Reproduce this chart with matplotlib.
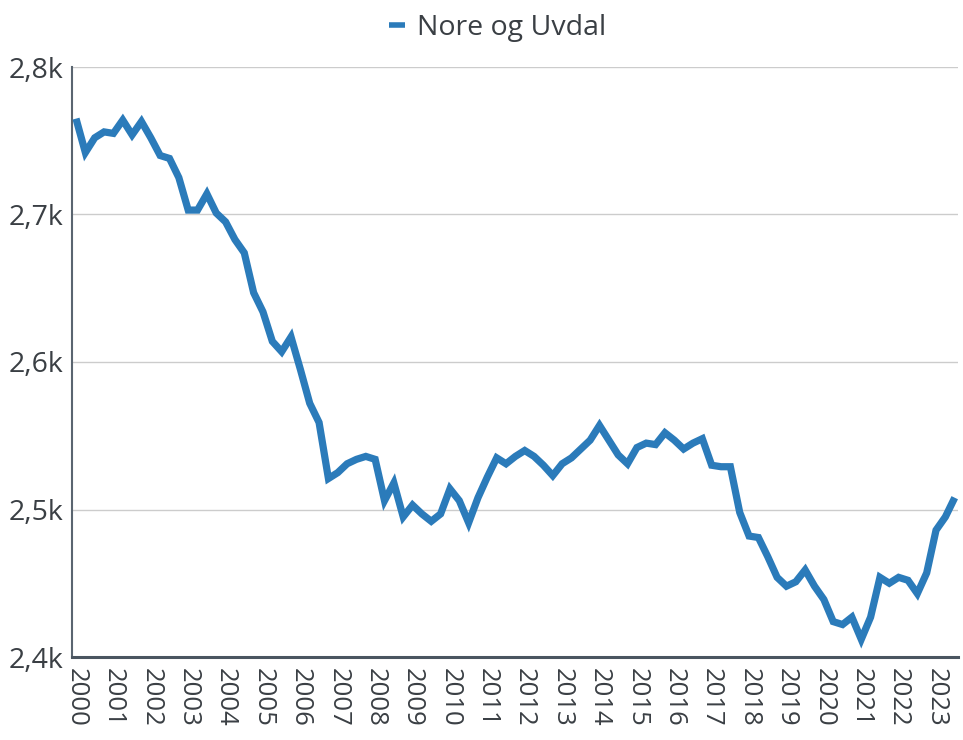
import matplotlib
matplotlib.use("Agg")
import matplotlib.pyplot as plt
from matplotlib.ticker import FixedLocator

series_name = "Nore og Uvdal"
years = list(range(2000, 2024))
quarters = [f"{y}K{q}" for y in years for q in range(1, 5)][:95]
values = [
    2765, 2742, 2752, 2756, 2755, 2764, 2754, 2763, 2752, 2740,
    2738, 2725, 2703, 2703, 2714, 2701, 2695, 2683, 2674, 2647,
    2634, 2614, 2607, 2617, 2595, 2572, 2559, 2521, 2525, 2531,
    2534, 2536, 2534, 2506, 2518, 2495, 2503, 2497, 2492, 2497,
    2514, 2506, 2491, 2508, 2522, 2535, 2531, 2536, 2540, 2536,
    2530, 2523, 2531, 2535, 2541, 2547, 2557, 2547, 2537, 2531,
    2542, 2545, 2544, 2552, 2547, 2541, 2545, 2548, 2530, 2529,
    2529, 2498, 2482, 2481, 2468, 2454, 2448, 2451, 2459, 2448,
    2439, 2424, 2422, 2427, 2412, 2427, 2454, 2450, 2454, 2452,
    2443, 2457, 2486, 2495, 2508,
]
y_ticks = [2400, 2500, 2600, 2700, 2800]
y_tick_labels = ["2,4k", "2,5k", "2,6k", "2,7k", "2,8k"]
x_tick_labels = [str(y) for y in years]

plt.rcParams['font.family'] = ['Open Sans', 'DejaVu Sans']
text_color = '#3a3f44'
line_color = '#2b7bba'

fig = plt.figure(figsize=(9.63, 7.40), dpi=100)
ax = fig.add_axes([72/963, 83/740, 886/963, 590/740])

x = list(range(len(values)))
ax.plot(x, values, color=line_color, linewidth=5.2, solid_joinstyle='miter',
        solid_capstyle='butt', label=series_name, zorder=3)

ax.set_ylim(2400, 2800)
ax.set_xlim(-0.43, 94.35)
ax.yaxis.set_major_locator(FixedLocator(y_ticks))
ax.set_yticklabels(y_tick_labels)
ax.set_xticks([i * 4 for i in range(len(x_tick_labels))])
ax.set_xticklabels(x_tick_labels, rotation=-90, va='top', ha='center')

ax.grid(axis='y', color='#cccccc', linewidth=1.0, zorder=0)
ax.grid(axis='x', visible=False)
for side in ['top', 'right']:
    ax.spines[side].set_visible(False)
ax.spines['left'].set_color('#5a6570')
ax.spines['left'].set_linewidth(1.5)
ax.spines['bottom'].set_color('#4a5560')
ax.spines['bottom'].set_linewidth(2.2)
ax.spines['bottom'].set_zorder(4)

ax.tick_params(axis='y', length=0, pad=6, labelsize=20.5, labelcolor=text_color)
ax.tick_params(axis='x', length=0, pad=8, labelsize=18.5, labelcolor=text_color)

leg = fig.legend(loc='upper center', bbox_to_anchor=(0.517, 1.016), frameon=False,
                 fontsize=20.5, handlelength=0.55, handletextpad=0.45,
                 labelcolor=text_color)
for h in leg.get_lines():
    h.set_linewidth(4)

fig.savefig("out.png", dpi=100, facecolor='white')
